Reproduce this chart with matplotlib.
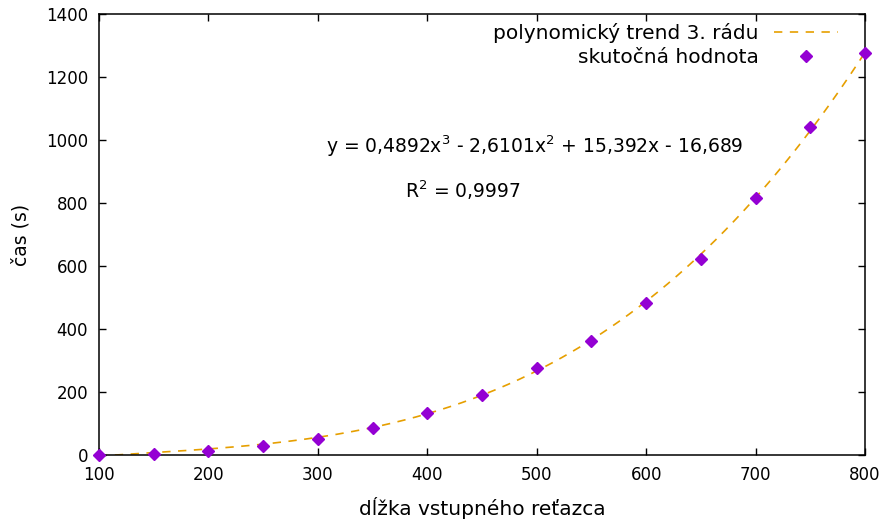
import numpy as np
import matplotlib.pyplot as plt

plt.rcParams['font.family'] = ['DejaVu Sans']
plt.rcParams['mathtext.default'] = 'regular'

# measured values
dlzka = [100, 150, 200, 250, 300, 350, 400, 450, 500, 550, 600, 650, 700, 750, 800]
cas = [0, 3, 12, 28, 51, 86, 134, 191, 275, 362, 483, 622, 816, 1041, 1275]

# trend coefficients (x = index of point, 1..15)
coef = [0.4892, -2.6101, 15.392, -16.689]

xticks = [100, 200, 300, 400, 500, 600, 700, 800]
yticks = [0, 200, 400, 600, 800, 1000, 1200, 1400]

fig = plt.figure(figsize=(8.85, 5.26), dpi=100)
ax = fig.add_axes([0.1119, 0.135, 0.8655, 0.8384])

xs = np.linspace(100, 800, 400)
k = (xs - 50) / 50
ax.plot(xs, np.polyval(coef, k), color='#E69F00', lw=1.2, dashes=(5, 4.5),
        label='polynomický trend 3. rádu')
ax.plot(dlzka, cas, ls='none', marker='D', ms=6.3, color='#9400D3',
        label='skutočná hodnota', clip_on=False, zorder=3)

ax.set_xlim(100, 800)
ax.set_ylim(0, 1400)
ax.set_xticks(xticks)
ax.set_yticks(yticks)
ax.tick_params(direction='in', length=5, width=1, top=True, right=True,
               labelsize=12, pad=8)
for s in ax.spines.values():
    s.set_linewidth(1.1)

ax.set_xlabel('dĺžka vstupného reťazca', fontsize=14.5, labelpad=9)
ax.set_ylabel('čas (s)', fontsize=13.5, labelpad=11)

ax.text(498, 981, 'y = 0,4892x$^{3}$ - 2,6101x$^{2}$ + 15,392x - 16,689',
        fontsize=13.5, ha='center', va='center')
ax.text(380, 841, 'R$^{2}$ = 0,9997', fontsize=13.5, ha='left', va='center')

leg = ax.legend(loc='upper right', bbox_to_anchor=(0.9648, 0.98), frameon=False,
                fontsize=14.5, markerfirst=False, handlelength=3.2,
                borderaxespad=0, borderpad=0, labelspacing=0.28,
                handletextpad=0.75)
for t in leg.get_texts():
    t.set_ha('right')

fig.savefig('out.png', dpi=100)
